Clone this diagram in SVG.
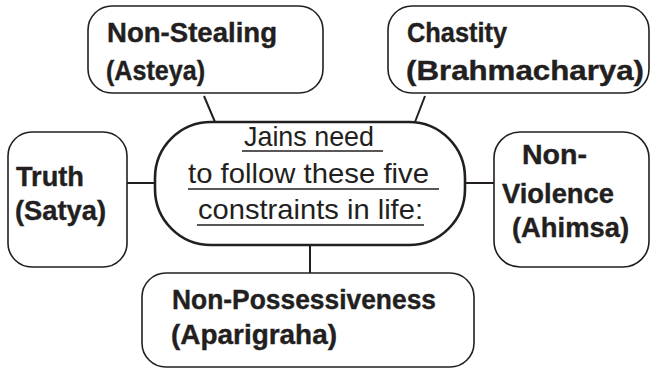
<svg xmlns="http://www.w3.org/2000/svg" width="651" height="369" viewBox="0 0 651 369">
<style>
.box{fill:#fff;stroke:#231f20;stroke-width:1.6}
.core{fill:#fff;stroke:#231f20;stroke-width:2.6}
.lbl{font-family:"Liberation Sans",Arial,sans-serif;font-weight:bold;font-size:28px;fill:#231f20;stroke:#231f20;stroke-width:0.4}
.mid{font-family:"Liberation Sans",Arial,sans-serif;font-size:28px;fill:#231f20}
.ul{stroke:#231f20;stroke-width:1.4}
.con{stroke:#231f20;stroke-width:2;fill:none}
</style>
<rect width="651" height="369" fill="#fff"/>
<g id="connectors">
<line class="con" x1="204" y1="96" x2="215" y2="122"/>
<line class="con" x1="425" y1="96" x2="415" y2="122"/>
<line class="con" x1="127" y1="183" x2="155" y2="183"/>
<line class="con" x1="465" y1="183" x2="494" y2="183"/>
<line class="con" x1="310" y1="245" x2="310" y2="273"/>
</g>
<g id="non-stealing">
<rect class="box" x="88" y="6" width="235" height="87" rx="24"/>
<text class="lbl" x="107" y="42" textLength="170" lengthAdjust="spacingAndGlyphs">Non-Stealing</text>
<text class="lbl" x="106" y="80" textLength="99" lengthAdjust="spacingAndGlyphs">(Asteya)</text>
</g>
<g id="chastity">
<rect class="box" x="388" y="6" width="261" height="87" rx="24"/>
<text class="lbl" x="407" y="42" textLength="100" lengthAdjust="spacingAndGlyphs">Chastity</text>
<text class="lbl" x="406" y="80" textLength="238" lengthAdjust="spacingAndGlyphs">(Brahmacharya)</text>
</g>
<g id="truth">
<rect class="box" x="8" y="132" width="119" height="135" rx="24"/>
<text class="lbl" x="16" y="186" textLength="68" lengthAdjust="spacingAndGlyphs">Truth</text>
<text class="lbl" x="15" y="220" textLength="91" lengthAdjust="spacingAndGlyphs">(Satya)</text>
</g>
<g id="non-violence">
<rect class="box" x="494" y="132" width="155" height="135" rx="26"/>
<text class="lbl" x="522" y="164" textLength="65" lengthAdjust="spacingAndGlyphs">Non-</text>
<text class="lbl" x="502" y="203" textLength="112" lengthAdjust="spacingAndGlyphs">Violence</text>
<text class="lbl" x="512" y="237" textLength="117" lengthAdjust="spacingAndGlyphs">(Ahimsa)</text>
</g>
<g id="center">
<rect class="core" x="155" y="122" width="310" height="123" rx="56"/>
<text class="mid" x="244" y="146" textLength="130" lengthAdjust="spacingAndGlyphs">Jains need</text>
<line class="ul" x1="242" y1="151" x2="383" y2="151"/>
<text class="mid" x="188" y="183" textLength="241" lengthAdjust="spacingAndGlyphs">to follow these five</text>
<line class="ul" x1="188" y1="189" x2="439" y2="189"/>
<text class="mid" x="198" y="219" textLength="225" lengthAdjust="spacingAndGlyphs">constraints in life:</text>
<line class="ul" x1="197" y1="225" x2="424" y2="225"/>
</g>
<g id="non-possessiveness">
<rect class="box" x="142" y="273" width="332" height="94" rx="24"/>
<text class="lbl" x="172" y="309" textLength="264" lengthAdjust="spacingAndGlyphs">Non-Possessiveness</text>
<text class="lbl" x="171" y="344" textLength="166" lengthAdjust="spacingAndGlyphs">(Aparigraha)</text>
</g>
</svg>
